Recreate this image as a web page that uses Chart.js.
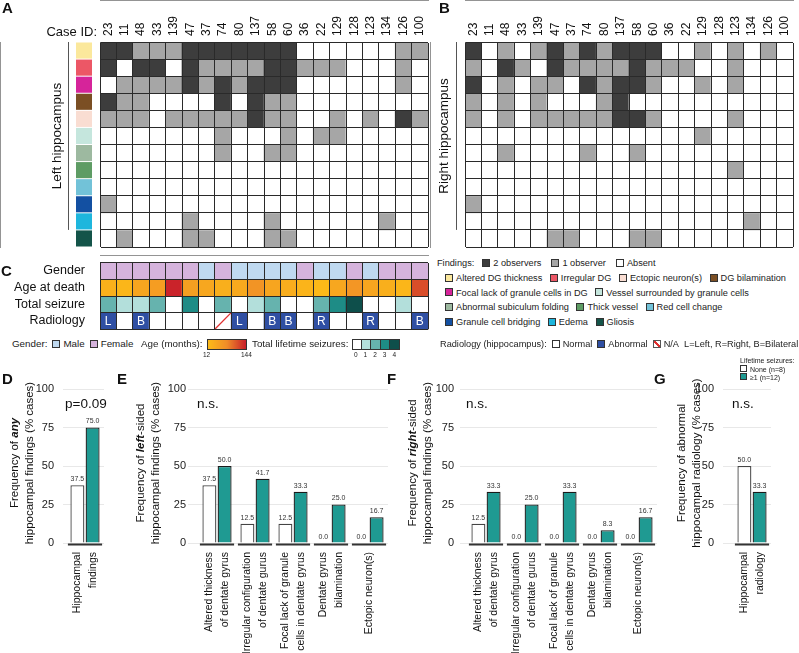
<!DOCTYPE html>
<html>
<head>
<meta charset="utf-8">
<script src="https://cdn.jsdelivr.net/npm/chart.js@4.4.0/dist/chart.umd.min.js"></script>
<style>
  body { margin: 0; width: 799px; height: 653px; position: relative; overflow: hidden; background: #fff;
         font-family: "Liberation Sans", Arial, sans-serif; color: #222; }
  canvas { position: absolute; }
  .panel { position: absolute; font-weight: bold; font-size: 15px; color: #111; }
  .leg { position: absolute; font-size: 9.8px; line-height: 14px; white-space: nowrap; color: #222; }
  .rleg { font-size: 9.2px; }
  .sw { display: inline-block; width: 6px; height: 6px; border: 1px solid #333; vertical-align: -0.5px; margin: 0 3px 0 5px; }
  .tiny { position: absolute; font-size: 6.5px; color: #222; white-space: nowrap; }
</style>
</head>
<body>

<canvas id="heatA" width="430" height="250" style="left:0;top:0"></canvas>
<canvas id="heatB" width="369" height="250" style="left:430px;top:0"></canvas>
<canvas id="meta" width="430" height="80" style="left:0;top:255px"></canvas>
<canvas id="barD" width="112" height="283" style="left:0;top:370px"></canvas>
<canvas id="barE" width="272" height="283" style="left:120px;top:370px"></canvas>
<canvas id="barF" width="268" height="283" style="left:392px;top:370px"></canvas>
<canvas id="barG" width="139" height="283" style="left:660px;top:370px"></canvas>

<div class="panel" style="left:2px;top:-1px">A</div>
<div class="panel" style="left:439px;top:-1px">B</div>
<div class="panel" style="left:1px;top:262px">C</div>
<div class="panel" style="left:2px;top:370px">D</div>
<div class="panel" style="left:117px;top:370px">E</div>
<div class="panel" style="left:387px;top:370px">F</div>
<div class="panel" style="left:654px;top:370px">G</div>

<div id="findLegend"></div>

<div class="leg" style="left:12px;top:337px">Gender:<i class="sw" style="background:#bfd9f0"></i>Male<i class="sw" style="background:#d5b3dc"></i>Female</div>
<div class="leg" style="left:141px;top:337px">Age (months):</div>
<div style="position:absolute;left:207px;top:339px;width:38px;height:9px;border:1px solid #333;background:linear-gradient(to right,#fcba18,#f08c28,#c81e2a)"></div>
<div class="tiny" style="left:203px;top:351px">12</div>
<div class="tiny" style="left:241px;top:351px">144</div>
<div class="leg" style="left:252px;top:337px">Total lifetime seizures:</div>
<div id="seizLegend"></div>
<div class="leg rleg" style="left:440px;top:337px">Radiology (hippocampus):<i class="sw"></i>Normal<i class="sw" style="background:#2f4fa3"></i>Abnormal<i class="sw" style="border-color:#555;background:linear-gradient(to top right,transparent 40%,#e03030 40%,#e03030 60%,transparent 60%)"></i>N/A&nbsp;&nbsp;L=Left, R=Right, B=Bilateral</div>

<div class="tiny" style="left:740px;top:357px;font-size:7px">Lifetime seizures:</div>
<div class="tiny" style="left:740px;top:365px;font-size:7px"><i class="sw" style="width:5px;height:5px;margin:0 3px 0 0"></i>None (n=8)</div>
<div class="tiny" style="left:740px;top:373px;font-size:7px"><i class="sw" style="width:5px;height:5px;margin:0 3px 0 0;background:#1f9a92"></i>≥1 (n=12)</div>

<script>
// ---- data ----
const caseIds = ['23','11','48','33','139','47','37','74','80','137','58','60','36','22','129','128','123','134','126','100'];
const findingNames = ['Altered DG thickness','Irregular DG','Focal lack of granule cells in DG','DG bilamination',
  'Ectopic neuron(s)','Vessel surrounded by granule cells','Abnormal subiculum folding','Thick vessel',
  'Red cell change','Granule cell bridging','Edema','Gliosis'];
const findingColors = ['#fbe89c','#ec5766','#d6249a','#7b4f24','#f9ddd2','#c5e6dd','#9db9a0','#5e9c64',
  '#72c2d8','#1350a2','#1eb6dd','#145449'];

// 2 = 2 observers, 1 = 1 observer, 0 = absent (one row per finding)
const leftHippo = [
  [2,2,1,1,1,2,2,2,2,2,2,2,0,0,0,0,0,0,1,1],
  [2,0,2,2,0,2,1,1,1,1,2,2,1,1,1,0,0,0,1,0],
  [0,1,1,1,1,2,1,2,1,2,2,2,0,0,0,0,0,0,1,0],
  [2,1,1,0,0,0,0,2,0,2,1,1,0,0,0,0,0,0,0,0],
  [1,1,1,0,1,1,1,1,1,2,1,1,0,0,1,0,1,0,2,1],
  [0,0,0,0,0,0,0,1,0,0,0,1,0,1,1,0,0,0,0,0],
  [0,0,0,0,0,0,0,1,0,0,1,1,0,0,0,0,0,0,0,0],
  [0,0,0,0,0,0,0,0,0,0,0,0,0,0,0,0,0,0,0,0],
  [0,0,0,0,0,0,0,0,0,0,0,0,0,0,0,0,0,0,0,0],
  [1,0,0,0,0,0,0,0,0,0,0,0,0,0,0,0,0,0,0,0],
  [0,0,0,0,0,1,0,0,0,0,1,0,0,0,0,0,0,1,0,0],
  [0,1,0,0,0,1,1,0,0,0,1,1,0,0,0,0,0,0,0,0]
];
const rightHippo = [
  [2,0,1,0,1,2,1,2,1,2,2,2,0,0,1,0,1,0,1,0],
  [1,0,2,1,0,2,1,1,1,1,2,1,1,1,0,0,1,0,0,0],
  [2,0,1,0,1,1,0,2,1,2,2,1,0,0,1,0,1,0,0,0],
  [1,0,1,0,1,0,0,0,1,2,0,0,0,0,0,0,0,0,0,0],
  [1,0,1,0,1,1,1,1,1,2,2,1,0,0,0,0,1,0,0,0],
  [0,0,0,0,0,0,0,0,0,0,0,0,0,0,1,0,0,0,0,0],
  [0,0,1,0,0,0,0,1,0,0,1,0,0,0,0,0,0,0,0,0],
  [0,0,0,0,0,0,0,0,0,0,0,0,0,0,0,0,1,0,0,0],
  [0,0,0,0,0,0,0,0,0,0,0,0,0,0,0,0,0,0,0,0],
  [1,0,0,0,0,0,0,0,0,0,0,0,0,0,0,0,0,0,0,0],
  [0,0,0,0,0,0,0,0,0,0,0,0,0,0,0,0,0,1,0,0],
  [0,0,0,0,0,1,1,0,0,0,1,1,0,0,0,0,0,0,0,0]
];

const metaRows = ['Gender','Age at death','Total seizure','Radiology'];
const gender = ['F','F','F','F','F','F','M','F','M','M','M','M','F','M','M','F','M','F','F','F'];
const ageMonths = [22,16,34,42,140,40,32,24,30,52,34,26,18,13,32,50,34,24,16,108];
const seizures = [2,1,1,2,0,3,0,2,0,1,2,0,0,2,3,4,0,0,1,0];
const radiology = ['L','N','B','N','N','N','N','NA','L','N','B','B','N','R','N','N','R','N','N','B'];

const sideLabels = [['Altered thickness','of dentate gyrus'],['Irregular configuration','of dentate gurus'],
  ['Focal lack of granule','cells in dentate gyrus'],['Dentate gyrus','bilamination'],['Ectopic neuron(s)']];
const anyNone = [37.5], anySome = [75.0];
const leftNone = [37.5, 12.5, 12.5, 0.0, 0.0], leftSome = [50.0, 41.7, 33.3, 25.0, 16.7];
const rightNone = [12.5, 0.0, 0.0, 0.0, 0.0], rightSome = [33.3, 25.0, 33.3, 8.3, 16.7];
const radNone = [50.0], radSome = [33.3];

// ---- styles ----
const FONT = '"Liberation Sans", Arial, sans-serif';
Chart.defaults.font.family = FONT;
Chart.defaults.color = '#111';
const shade = ['#ffffff', '#a6a6a6', '#3d3d3d'];
const genderColor = { M: '#bfd9f0', F: '#d5b3dc' };
const seizColor = ['#ffffff', '#b3dfdb', '#66b3ae', '#1e8c86', '#0e4f4b'];
const teal = '#1f9a92';
const gridDark = '#2a2a2a';

function ageColor(m) {
  const stops = [[12, [252, 186, 24]], [60, [240, 140, 40]], [144, [200, 30, 42]]];
  let i = m <= 60 ? 0 : 1;
  const [a, ca] = stops[i], [b, cb] = stops[i + 1];
  const t = Math.max(0, Math.min(1, (m - a) / (b - a)));
  return 'rgb(' + ca.map((c, k) => Math.round(c + (cb[k] - c) * t)).join(',') + ')';
}

// legends built from the same arrays
(function () {
  const rows = [[0, 1, 4, 3], [2, 5], [6, 7, 8], [9, 10, 11]];
  let html = '<div class="leg rleg" style="left:437px;top:256px">Findings:<i class="sw" style="background:#3d3d3d;margin-left:8px"></i>2 observers&nbsp;&nbsp;<i class="sw" style="background:#a6a6a6"></i>1 observer&nbsp;&nbsp;<i class="sw"></i>Absent</div>';
  rows.forEach((r, k) => {
    html += '<div class="leg rleg" style="left:440px;top:' + (271 + k * 14.7) + 'px">' +
      r.map(i => '<i class="sw" style="background:' + findingColors[i] + '"></i>' + findingNames[i]).join('&nbsp;') + '</div>';
  });
  document.getElementById('findLegend').innerHTML = html;
  let s = '';
  seizColor.forEach((c, i) => {
    s += '<div style="position:absolute;left:' + (352 + i * 9.6) + 'px;top:339px;width:9.6px;height:11px;box-sizing:border-box;border:1px solid #333;border-left-width:' + (i ? 0 : 1) + 'px;background:' + c + '"></div>';
    s += '<div class="tiny" style="left:' + (354 + i * 9.6) + 'px;top:351px">' + i + '</div>';
  });
  document.getElementById('seizLegend').innerHTML = s;
})();

// ---- heatmaps (A, B) ----
function heatmap(id, rows, padLeft, padRight, extras) {
  return new Chart(document.getElementById(id), {
    type: 'bar',
    data: {
      labels: caseIds,
      datasets: rows.map((row, r) => ({
        label: findingNames[r],
        data: row.map(() => 1),
        backgroundColor: row.map(v => shade[v]),
        borderWidth: 0, barPercentage: 1, categoryPercentage: 1
      }))
    },
    options: {
      responsive: false, animation: false,
      layout: { padding: { left: padLeft, right: padRight, top: 0, bottom: 3 } },
      plugins: { legend: { display: false }, tooltip: { enabled: false } },
      scales: {
        x: {
          position: 'top', stacked: true,
          grid: { offset: true, color: gridDark, z: 1, drawTicks: false },
          border: { color: gridDark },
          ticks: { autoSkip: false, minRotation: 90, maxRotation: 90, padding: 6, labelOffset: 14.4,
                   color: '#111', font: { size: 12 } },
          afterFit: s => { s.height = 42; }
        },
        y: {
          stacked: true, reverse: true, min: 0, max: rows.length,
          ticks: { display: false, stepSize: 1 },
          grid: { color: gridDark, z: 1, drawTicks: false },
          border: { color: gridDark },
          afterFit: s => { s.width = 0; }
        }
      }
    },
    plugins: [extras]
  });
}

function rotText(ctx, x, y, parts, size, align) {
  ctx.save();
  ctx.translate(x, y);
  ctx.rotate(-Math.PI / 2);
  ctx.textBaseline = 'middle';
  ctx.textAlign = 'left';
  const fonts = parts.map(p => (p.bi ? 'italic bold ' : '') + size + 'px ' + FONT);
  const widths = parts.map((p, i) => { ctx.font = fonts[i]; return ctx.measureText(p.t).width; });
  const total = widths.reduce((a, b) => a + b, 0);
  let cx = align === 'right' ? -total : -total / 2;
  parts.forEach((p, i) => { ctx.font = fonts[i]; ctx.fillText(p.t, cx, 0); cx += widths[i]; });
  ctx.restore();
}

function heatExtras(title, lineX, titleX, withSwatches) {
  return {
    id: 'heatExtras',
    afterDraw(chart) {
      const { ctx, chartArea: a, scales: { y } } = chart;
      ctx.save();
      if (withSwatches) {
        findingColors.forEach((c, r) => {
          const t = y.getPixelForValue(r), b = y.getPixelForValue(r + 1);
          ctx.fillStyle = c;
          ctx.fillRect(76, t + 0.5, 16, b - t - 1);
        });
        ctx.fillStyle = '#111';
        ctx.font = '13px ' + FONT;
        ctx.textAlign = 'right';
        ctx.textBaseline = 'middle';
        ctx.fillText('Case ID:', 97, 32);
      }
      const bottom = y.getPixelForValue(11);
      ctx.strokeStyle = '#555';
      ctx.lineWidth = 1;
      ctx.beginPath();
      ctx.moveTo(lineX + 0.5, a.top);
      ctx.lineTo(lineX + 0.5, bottom);
      ctx.stroke();
      ctx.fillStyle = '#111';
      rotText(ctx, titleX, (a.top + bottom) / 2, [{ t: title }], 13.5);
      ctx.restore();
    }
  };
}

heatmap('heatA', leftHippo, 100, 2, heatExtras('Left hippocampus', 68, 57, true));
heatmap('heatB', rightHippo, 35, 6, heatExtras('Right hippocampus', 26, 14, false));

// ---- panel C ----
const metaExtras = {
  id: 'metaExtras',
  afterDatasetsDraw(chart) {
    const { ctx, scales: { x, y } } = chart;
    ctx.save();
    const half = (x.getPixelForValue(1) - x.getPixelForValue(0)) / 2;
    const t = y.getPixelForValue(3), b = y.getPixelForValue(4);
    radiology.forEach((r, i) => {
      const cx = x.getPixelForValue(i);
      if (r === 'NA') {
        ctx.strokeStyle = '#e03030';
        ctx.lineWidth = 1.3;
        ctx.beginPath();
        ctx.moveTo(cx - half, b);
        ctx.lineTo(cx + half, t);
        ctx.stroke();
      } else if (r !== 'N') {
        ctx.fillStyle = '#fff';
        ctx.font = '12px ' + FONT;
        ctx.textAlign = 'center';
        ctx.textBaseline = 'middle';
        ctx.fillText(r, cx, (t + b) / 2 + 0.5);
      }
    });
    ctx.restore();
  }
};

new Chart(document.getElementById('meta'), {
  type: 'bar',
  data: {
    labels: caseIds,
    datasets: [
      { label: metaRows[0], data: gender.map(() => 1), backgroundColor: gender.map(g => genderColor[g]) },
      { label: metaRows[1], data: ageMonths.map(() => 1), backgroundColor: ageMonths.map(ageColor) },
      { label: metaRows[2], data: seizures.map(() => 1), backgroundColor: seizures.map(s => seizColor[s]) },
      { label: metaRows[3], data: radiology.map(() => 1), backgroundColor: radiology.map(r => (r === 'N' || r === 'NA') ? '#ffffff' : '#2f4fa3') }
    ].map(d => Object.assign(d, { borderWidth: 0, barPercentage: 1, categoryPercentage: 1 }))
  },
  options: {
    responsive: false, animation: false,
    layout: { padding: { left: 0, right: 2, top: 7.7, bottom: 5.7 } },
    plugins: { legend: { display: false }, tooltip: { enabled: false } },
    scales: {
      x: {
        position: 'top', stacked: true,
        grid: { offset: true, color: gridDark, z: 1, drawTicks: false },
        border: { color: gridDark },
        ticks: { display: false },
        afterFit: s => { s.height = 0; s.paddingLeft = 0; s.paddingRight = 0; }
      },
      y: {
        stacked: true, reverse: true, min: 0, max: 4,
        ticks: { display: false, stepSize: 1 },
        grid: { color: gridDark, z: 1, drawTicks: false },
        border: { display: false },
        afterFit: s => { s.width = 0; s.paddingTop = 0; s.paddingBottom = 0; }
      },
      yl: {
        type: 'category', labels: metaRows, position: 'left', offset: true,
        grid: { display: false }, border: { display: false },
        ticks: { autoSkip: false, padding: 7, color: '#111', font: { size: 12.5 } },
        afterFit: s => { s.width = 100; s.paddingTop = 0; s.paddingBottom = 0; }
      }
    }
  },
  plugins: [metaExtras]
});

// ---- bar panels D-G ----
function barPanel(id, box, area, tickLen, tickPad, labels, none, some, title, titleX, note) {
  const extras = {
    id: 'barExtras',
    afterDraw(chart) {
      const { ctx, chartArea: a, scales: { x } } = chart;
      ctx.save();
      const m0 = chart.getDatasetMeta(0), m1 = chart.getDatasetMeta(1);
      // value labels
      ctx.font = '7px ' + FONT;
      ctx.fillStyle = '#333';
      ctx.textAlign = 'center';
      ctx.textBaseline = 'bottom';
      [m0, m1].forEach((m, k) => m.data.forEach((bar, i) => {
        const v = (k ? some : none)[i];
        ctx.fillText(v.toFixed(1), bar.x, bar.y - 2.5);
      }));
      // group underline
      ctx.strokeStyle = '#333';
      ctx.lineWidth = 2;
      labels.forEach((l, i) => {
        const b0 = m0.data[i], b1 = m1.data[i];
        ctx.beginPath();
        ctx.moveTo(b0.x - b0.width / 2 - 2.5, a.bottom + 1.5);
        ctx.lineTo(b1.x + b1.width / 2 + 2.5, a.bottom + 1.5);
        ctx.stroke();
      });
      // category labels
      ctx.fillStyle = '#111';
      const lh = 15.5;
      labels.forEach((lines, i) => {
        const px = x.getPixelForValue(i);
        lines.forEach((s, j) => {
          rotText(ctx, px + (j - (lines.length - 1) / 2) * lh, a.bottom + 9, [{ t: s }], 10.5, 'right');
        });
      });
      // note
      ctx.font = '13.5px ' + FONT;
      ctx.textAlign = 'left';
      ctx.textBaseline = 'middle';
      ctx.fillStyle = '#111';
      ctx.fillText(note, a.left - 1, 404 - box.top);
      // y title
      const yc = 463 - box.top;
      rotText(ctx, titleX[0] - box.left, yc, title[0], 11.5);
      rotText(ctx, titleX[1] - box.left, yc, title[1], 11.5);
      ctx.restore();
    }
  };
  return new Chart(document.getElementById(id), {
    type: 'bar',
    data: {
      labels: labels.map(l => l.join(' ')),
      datasets: [
        { label: 'None (n=8)', data: none, backgroundColor: '#ffffff', borderColor: '#444', borderWidth: 1.3 },
        { label: '≥1 (n=12)', data: some, backgroundColor: teal, borderColor: '#1a1a1a', borderWidth: 1.3 }
      ]
    },
    options: {
      responsive: false, animation: false,
      datasets: { bar: { categoryPercentage: 0.8, barPercentage: 0.92 } },
      layout: { padding: { top: 389 - box.top, right: box.left + box.width - area[1], left: 0, bottom: 0 } },
      plugins: { legend: { display: false }, tooltip: { enabled: false } },
      scales: {
        x: {
          grid: { display: false }, border: { display: false },
          ticks: { display: false },
          afterFit: s => { s.height = box.top + box.height - 543; }
        },
        y: {
          min: 0, max: 100,
          ticks: { stepSize: 25, padding: tickPad, color: '#222', font: { size: 11 } },
          grid: { color: '#e8e8e8', tickLength: tickLen },
          border: { display: false },
          afterFit: s => { s.width = area[0] - box.left; }
        }
      }
    },
    plugins: [extras]
  });
}

const freqLine2 = [{ t: 'hippocampal findings (% cases)' }];
barPanel('barD', { left: 0, top: 370, width: 112, height: 283 }, [66, 104], 3, 9,
  [['Hippocampal', 'findings']], anyNone, anySome,
  [[{ t: 'Frequency of ' }, { t: 'any', bi: true }], freqLine2], [15, 30], 'p=0.09');
barPanel('barE', { left: 120, top: 370, width: 272, height: 283 }, [198, 388], 10, 2,
  sideLabels, leftNone, leftSome,
  [[{ t: 'Frequency of ' }, { t: 'left', bi: true }, { t: '-sided' }], freqLine2], [141, 156], 'n.s.');
barPanel('barF', { left: 392, top: 370, width: 268, height: 283 }, [467, 657], 7, 6,
  sideLabels, rightNone, rightSome,
  [[{ t: 'Frequency of ' }, { t: 'right', bi: true }, { t: '-sided' }], freqLine2], [413, 428], 'n.s.');
barPanel('barG', { left: 660, top: 370, width: 139, height: 283 }, [733, 771], 10, 9,
  [['Hippocampal', 'radiology']], radNone, radSome,
  [[{ t: 'Frequency of abnormal' }], [{ t: 'hippocampal radiology (% cases)' }]], [682, 697], 'n.s.');
</script>
</body>
</html>
